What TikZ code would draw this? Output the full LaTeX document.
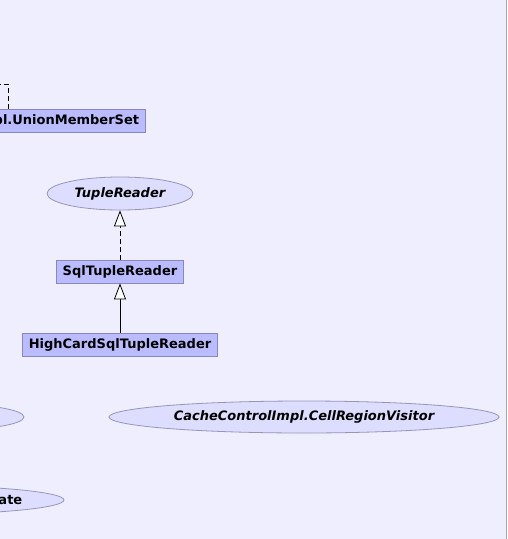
\documentclass[tikz,border=0pt]{standalone}
\usepackage{fontspec}
\setmainfont{DejaVu Sans}
\usetikzlibrary{arrows.meta,shapes.geometric}
\definecolor{pozadi}{RGB}{238,238,255}
\definecolor{vyplnTridy}{RGB}{187,187,255}
\definecolor{ramTridy}{RGB}{136,136,187}
\definecolor{vyplnRozhrani}{RGB}{221,221,255}
\definecolor{ramRozhrani}{RGB}{150,150,185}
\begin{document}
\begin{tikzpicture}[
        x=1pt, y=-1pt,
        umlclass/.style={draw=ramTridy, fill=vyplnTridy, line width=0.8pt,
            minimum height=23pt, inner xsep=6.5pt, inner ysep=0pt,
            font=\fontsize{13}{15}\selectfont\bfseries},
        iface/.style={ellipse, draw=ramRozhrani, fill=vyplnRozhrani, line width=0.8pt,
            inner sep=0pt, font=\fontsize{13}{15}\selectfont\bfseries\itshape},
        extends/.style={-{Triangle[length=16pt, width=12pt, fill=white]}, line width=0.8pt},
        implements/.style={extends, dash pattern=on 5pt off 3pt}
    ]
    % Pozadí a okraj
    \useasboundingbox (0,0) rectangle (507,539);
    \fill[pozadi] (0,0) rectangle (507,539);
    \draw[gray!70, line width=1.4pt] (506.3,0) -- (506.3,539);
    \clip (0,0) rectangle (505.6,539);
    
    % Třídy
    \node[umlclass, anchor=east] (unionSet) at (146,121) {pl.UnionMemberSet};
    \node[umlclass] (sqlTupleReader) at (120,271.5) {SqlTupleReader};
    \node[umlclass] (highCard) at (120,345) {HighCardSqlTupleReader};
    
    % Rozhraní
    \node[iface, minimum width=146pt, minimum height=33pt] (tupleReader) at (120,193.5) {TupleReader};
    \node[iface, minimum width=390pt, minimum height=32pt] (cellVisitor) at (304,417) {CacheControlImpl.CellRegionVisitor};
    \node[iface, minimum width=170pt, minimum height=27pt] (leftIface) at (-61,417) {};
    \node[iface, minimum width=308pt, minimum height=29pt] (ateIface) at (-90,500) {};
    \node[font=\fontsize{13}{15}\selectfont\bfseries, anchor=east, inner sep=0pt] (ateLabel) at (22.5,500) {ate};
    
    % Šipky dědičnosti
    \draw[implements] (sqlTupleReader) -- (tupleReader);
    \draw[extends] (highCard) -- (sqlTupleReader);
    
    % Přerušovaná linka zleva
    \coordinate (offLeft) at (-20,84);
    \coordinate (bendX) at (8,0);
    \draw[line width=0.8pt, dash pattern=on 5pt off 3pt] (offLeft) -| (unionSet.north west -| bendX);
    
\end{tikzpicture}
\end{document}
